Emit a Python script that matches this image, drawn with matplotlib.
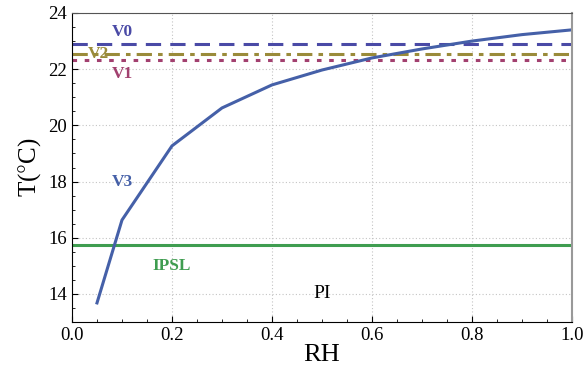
import matplotlib
matplotlib.use("Agg")
import matplotlib.pyplot as plt
from matplotlib.ticker import MultipleLocator

plt.rcParams["font.family"] = ["Liberation Serif", "DejaVu Serif"]
plt.rcParams["mathtext.fontset"] = "stix"

# V3 curve: temperature vs relative humidity
rh = [0.05, 0.1, 0.2, 0.3, 0.4, 0.5, 0.6, 0.7, 0.8, 0.9, 1.0]
t_v3 = [13.68, 16.63, 19.27, 20.62, 21.44, 21.97, 22.40, 22.72, 23.00, 23.23, 23.40]

# constant reference levels
t_v0 = 22.88
t_v2 = 22.54
t_v1 = 22.33
t_ipsl = 15.73

c_v0 = "#4a4aa6"
c_v2 = "#9a8b3a"
c_v1 = "#a2406f"
c_v3 = "#4560a8"
c_ipsl = "#3f9d50"

fig = plt.figure(figsize=(5.83, 3.8), dpi=100)
ax = fig.add_axes([0.1235, 0.1526, 0.8575, 0.8132])

ax.axhline(t_v0, color=c_v0, lw=2.2, ls=(0, (5, 3)))
ax.axhline(t_v2, color=c_v2, lw=2.2, ls=(0, (5, 2, 1.5, 2)))
ax.axhline(t_v1, color=c_v1, lw=2.2, ls=(0, (1.5, 2.5)))
ax.axhline(t_ipsl, color=c_ipsl, lw=2.2)
ax.plot(rh, t_v3, color=c_v3, lw=2.2)

lab = dict(fontsize=12.5, fontweight="bold", ha="center", va="center")
ax.text(0.1, 23.32, "V0", color=c_v0, **lab)
ax.text(0.052, 22.54, "V2", color=c_v2, **lab)
ax.text(0.1, 21.83, "V1", color=c_v1, **lab)
ax.text(0.1, 18.0, "V3", color=c_v3, **lab)
ax.text(0.2, 15.0, "IPSL", color=c_ipsl, **lab)
ax.text(0.5, 14.0, "PI", color="black", fontsize=14, ha="center", va="center")

ax.set_xlim(0, 1)
ax.set_ylim(13, 24)
ax.xaxis.set_major_locator(MultipleLocator(0.2))
ax.xaxis.set_minor_locator(MultipleLocator(0.05))
ax.yaxis.set_major_locator(MultipleLocator(2))
ax.yaxis.set_minor_locator(MultipleLocator(0.5))
ax.tick_params(which="both", direction="in", top=False, right=False, labelsize=13.5)
ax.tick_params(which="major", length=4)
ax.tick_params(which="minor", length=2)
ax.grid(True, which="major", color="#c4c4c4", ls=(0, (1, 2)), lw=0.8)

ax.spines["top"].set_color("#555555")
ax.spines["right"].set_color("#999999")
ax.spines["right"].set_linewidth(1.5)

ax.set_xlabel("RH", fontsize=19, labelpad=0)
ax.set_ylabel("T($\\degree$C)", fontsize=18, labelpad=4)

fig.savefig("out.png", dpi=100)
